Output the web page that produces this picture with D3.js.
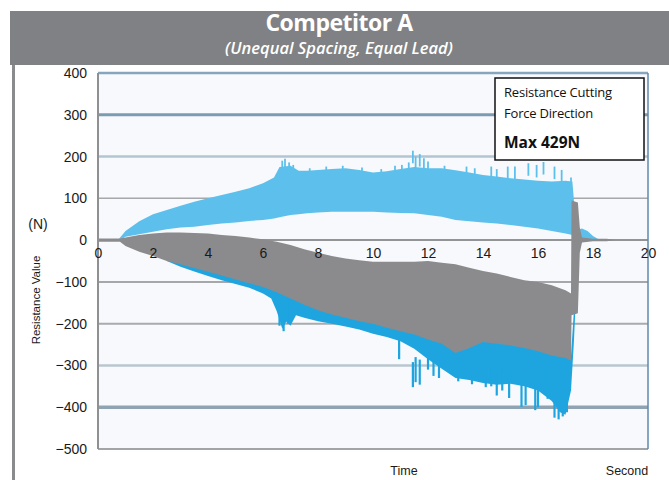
<!DOCTYPE html>
<html>
<head>
<meta charset="utf-8">
<script src="https://cdn.jsdelivr.net/npm/d3@7"></script>
<style>
  html, body { margin: 0; padding: 0; background: #ffffff; }
  svg { display: block; }
  .tick text { font-family: "Liberation Sans", Arial, sans-serif; }
</style>
</head>
<body>
<svg id="chart" width="669" height="480"></svg>
<script>
// ---- Data ----------------------------------------------------------
const xTicks = [0, 2, 4, 6, 8, 10, 12, 14, 16, 18, 20];
const yTicks = [400, 300, 200, 100, 0, -100, -200, -300, -400, -500];

// Positive (light blue) band: time in seconds, upper / lower envelope in N
const lightTime  = [0.75, 1.0, 1.5, 2.0, 2.5, 3.0, 3.5, 4.0, 4.5, 5.0, 5.5, 6.0, 6.4, 6.6, 7.0, 7.3, 7.6, 8.0, 8.5, 9.0, 9.5, 10.0, 10.5, 11.0, 11.5, 12.0, 12.5, 13.0, 13.5, 14.0, 14.5, 15.0, 15.5, 16.0, 16.5, 17.0, 17.25, 17.35, 17.45, 17.6, 17.8, 18.0, 18.2];
const lightUpper = [2, 22, 45, 62, 72, 82, 92, 100, 108, 116, 124, 136, 150, 175, 178, 166, 166, 168, 170, 172, 168, 162, 165, 170, 175, 172, 172, 167, 162, 156, 152, 148, 145, 142, 140, 142, 140, 60, 25, 28, 22, 10, 2];
const lightLower = [-2, 8, 14, 20, 26, 30, 32, 36, 40, 42, 46, 48, 52, 55, 60, 62, 64, 66, 68, 68, 68, 68, 66, 65, 64, 60, 56, 48, 45, 42, 40, 36, 32, 28, 22, 16, 12, 5, 0, 0, 0, 0, 0];
// Isolated peaks above the light blue band: [time, value]
const lightPeaks = [[6.7, 190], [6.8, 195], [6.95, 186], [7.1, 180], [7.7, 172], [8.3, 176], [8.9, 178], [9.6, 174], [10.3, 170], [10.8, 178], [11.05, 180], [11.3, 186], [11.45, 214], [11.55, 200], [11.7, 206], [11.85, 196], [12.0, 188], [12.6, 178], [13.4, 176], [13.7, 172], [14.3, 176], [14.5, 170], [14.9, 176], [15.16, 176], [15.65, 184], [15.95, 180], [16.2, 187], [16.6, 176], [16.86, 168], [17.2, 150]];

// Grey band
const grayTime  = [0, 0.8, 1.0, 1.5, 2.0, 2.5, 3.0, 3.5, 4.0, 4.5, 5.0, 5.5, 6.0, 6.5, 7.0, 7.5, 8.0, 8.5, 9.0, 9.5, 10.0, 10.5, 11.0, 11.5, 12.0, 12.5, 13.0, 13.5, 14.0, 14.5, 15.0, 15.5, 16.0, 16.5, 17.0, 17.2, 17.22, 17.45, 17.52, 17.6, 18.0, 18.5, 18.8];
const grayUpper = [4, 4, 6, 12, 16, 18, 18, 17, 16, 12, 10, 6, 2, -4, -12, -22, -30, -38, -44, -48, -52, -52, -52, -52, -50, -54, -58, -66, -74, -80, -88, -96, -100, -108, -120, -128, 95, 90, 30, 6, 3, 3, 0];
const grayLower = [-4, -4, -14, -28, -38, -50, -58, -67, -76, -85, -94, -103, -112, -125, -140, -155, -168, -178, -186, -194, -200, -210, -218, -226, -238, -248, -270, -258, -244, -248, -252, -258, -266, -276, -282, -288, -180, -175, -30, -6, -3, -3, 0];

// Deep blue band (its upper edge runs under the grey band)
const blueTime  = [2.5, 3.0, 3.5, 4.0, 4.5, 5.0, 5.5, 6.0, 6.3, 6.5, 6.7, 6.85, 7.0, 7.2, 7.5, 8.0, 8.5, 9.0, 9.5, 10.0, 10.5, 11.0, 11.5, 12.0, 12.5, 13.0, 13.5, 14.0, 14.5, 15.0, 15.5, 16.0, 16.5, 16.8, 17.0, 17.2, 17.3, 17.35];
const blueUpper = [-40, -50, -60, -70, -78, -86, -95, -104, -110, -118, -124, -128, -132, -136, -145, -158, -168, -176, -184, -190, -200, -208, -216, -228, -238, -255, -245, -235, -238, -242, -248, -255, -265, -270, -272, -276, -175, -175];
const blueLower = [-50, -64, -75, -86, -96, -105, -114, -128, -140, -170, -212, -195, -205, -180, -186, -194, -200, -207, -214, -224, -232, -242, -260, -285, -308, -330, -335, -342, -346, -344, -350, -360, -385, -412, -418, -360, -250, -180];
// Isolated peaks below the deep blue band: [time, value]
const bluePeaks = [[6.6, -205], [6.75, -218], [6.9, -200], [10.95, -285], [11.45, -352], [11.55, -340], [11.7, -346], [12.0, -310], [12.2, -325], [12.4, -330], [13.1, -338], [13.6, -345], [14.1, -352], [14.3, -350], [14.5, -372], [14.7, -360], [14.95, -378], [15.4, -399], [15.55, -395], [15.9, -407], [16.0, -400], [16.35, -380], [16.6, -425], [16.75, -429], [16.9, -422], [17.05, -412]];

const maxLabel = "Max 429N";

// ---- Layout & styles -----------------------------------------------
const svg = d3.select("#chart");
const plot = { left: 98, right: 648, top: 73, bottom: 449 };
const colors = { light: "#5dc0ec", blue: "#1ea5e0", gray: "#8b8b8d", header: "#808184" };
const gridStyle = {
  "400": ["#87a6bd", 2.5], "300": ["#7b9bb3", 3], "200": ["#b3c5d1", 2.5],
  "100": ["#a6a8aa", 1.5], "0": ["#929496", 2], "-100": ["#a5a7a9", 2],
  "-200": ["#a9abad", 2], "-300": ["#bac6cf", 2.5], "-400": ["#8fa3b2", 3.5],
  "-500": ["#a2a4a6", 2]
};

const x = d3.scaleLinear().domain([0, 20]).range([plot.left, plot.right]);
const y = d3.scaleLinear().domain([-500, 400]).range([plot.bottom, plot.top]);

// Header bar
svg.append("rect").attr("x", 10).attr("y", 11).attr("width", 659).attr("height", 54).attr("fill", colors.header);
svg.append("text").attr("x", 339).attr("y", 31).attr("text-anchor", "middle")
  .attr("font-family", "'Open Sans', sans-serif").attr("font-weight", 700).attr("font-size", 23)
  .attr("fill", "#ffffff").attr("letter-spacing", -0.5).text("Competitor A");
svg.append("text").attr("x", 339).attr("y", 54).attr("text-anchor", "middle")
  .attr("font-family", "'Open Sans', sans-serif").attr("font-style", "italic").attr("font-weight", 600)
  .attr("font-size", 16.5).attr("fill", "#ffffff").text("(Unequal Spacing, Equal Lead)");
// Left frame line
svg.append("rect").attr("x", 12).attr("y", 65).attr("width", 3).attr("height", 415).attr("fill", "#8a8b8d");

// Plot background
svg.append("rect").attr("x", plot.left).attr("y", plot.top)
  .attr("width", plot.right - plot.left).attr("height", plot.bottom - plot.top).attr("fill", "#f7f9fc");

// Grid lines
svg.append("g").selectAll("line").data(yTicks).join("line")
  .attr("x1", plot.left).attr("x2", plot.right)
  .attr("y1", d => y(d)).attr("y2", d => y(d))
  .attr("stroke", d => gridStyle[d][0]).attr("stroke-width", d => gridStyle[d][1]);

// Data bands
const band = (t, hi, lo) => d3.area()
  .x((d, i) => x(t[i])).y0((d, i) => y(lo[i])).y1((d, i) => y(hi[i]))(t);

svg.append("path").attr("d", band(lightTime, lightUpper, lightLower)).attr("fill", colors.light);
svg.append("g").selectAll("line").data(lightPeaks).join("line")
  .attr("x1", d => x(d[0])).attr("x2", d => x(d[0]))
  .attr("y1", d => y(d[1])).attr("y2", d => y(d[1] - 30))
  .attr("stroke", colors.light).attr("stroke-width", 1.8);

svg.append("path").attr("d", band(blueTime, blueUpper, blueLower)).attr("fill", colors.blue);
svg.append("g").selectAll("line").data(bluePeaks).join("line")
  .attr("x1", d => x(d[0])).attr("x2", d => x(d[0]))
  .attr("y1", d => y(d[1])).attr("y2", d => y(d[1] + 60))
  .attr("stroke", colors.blue).attr("stroke-width", 2.2);

svg.append("path").attr("d", band(grayTime, grayUpper, grayLower)).attr("fill", colors.gray);

// Axis frame lines
svg.append("line").attr("x1", plot.left).attr("x2", plot.left).attr("y1", plot.top).attr("y2", plot.bottom)
  .attr("stroke", "#8e9092").attr("stroke-width", 2);
svg.append("line").attr("x1", plot.right).attr("x2", plot.right).attr("y1", plot.top).attr("y2", plot.bottom)
  .attr("stroke", "#5f89ad").attr("stroke-width", 1.5);

// Y axis labels
const fmt = d => (d < 0 ? "\u2212" + Math.abs(d) : String(d));
const yAxis = svg.append("g").attr("transform", `translate(${plot.left},0)`)
  .call(d3.axisLeft(y).tickValues(yTicks).tickSize(0).tickPadding(11).tickFormat(fmt));
yAxis.select(".domain").remove();
yAxis.selectAll("text").attr("font-size", 14).attr("fill", "#1a1a1a");

// X axis labels (drawn inside the plot, under the zero line)
const xAxis = svg.append("g").attr("transform", `translate(0,${y(0)})`)
  .call(d3.axisBottom(x).tickValues(xTicks).tickSize(0).tickPadding(18).tickFormat(d => String(d)));
xAxis.select(".domain").remove();
xAxis.selectAll("text").attr("font-size", 14).attr("fill", "#1a1a1a").attr("dy", 0);

// Axis titles
const sans = "'Liberation Sans', Arial, sans-serif";
svg.append("text").attr("x", 38).attr("y", 229).attr("text-anchor", "middle")
  .attr("font-family", sans).attr("font-size", 14).attr("fill", "#1a1a1a").text("(N)");
svg.append("text").attr("transform", "translate(40,300) rotate(-90)").attr("text-anchor", "middle")
  .attr("font-family", sans).attr("font-size", 11.5).attr("fill", "#1a1a1a").text("Resistance Value");
svg.append("text").attr("x", 404).attr("y", 475).attr("text-anchor", "middle")
  .attr("font-family", sans).attr("font-size", 12.5).attr("fill", "#1a1a1a").text("Time");
svg.append("text").attr("x", 627).attr("y", 475).attr("text-anchor", "middle")
  .attr("font-family", sans).attr("font-size", 12.5).attr("fill", "#1a1a1a").text("Second");

// Annotation box
const box = svg.append("g");
box.append("rect").attr("x", 495).attr("y", 78).attr("width", 149).attr("height", 82)
  .attr("fill", "#ffffff").attr("stroke", "#111111").attr("stroke-width", 1.5);
const boxFont = "'Open Sans', sans-serif";
box.append("text").attr("x", 504).attr("y", 97).attr("font-family", boxFont).attr("font-size", 13)
  .attr("letter-spacing", -0.2).attr("fill", "#111").text("Resistance Cutting");
box.append("text").attr("x", 504).attr("y", 118).attr("font-family", boxFont).attr("font-size", 13)
  .attr("letter-spacing", -0.2).attr("fill", "#111").text("Force Direction");
box.append("text").attr("x", 504).attr("y", 148).attr("font-family", boxFont).attr("font-size", 15.5)
  .attr("font-weight", 700).attr("fill", "#111").text(maxLabel);
</script>
</body>
</html>
